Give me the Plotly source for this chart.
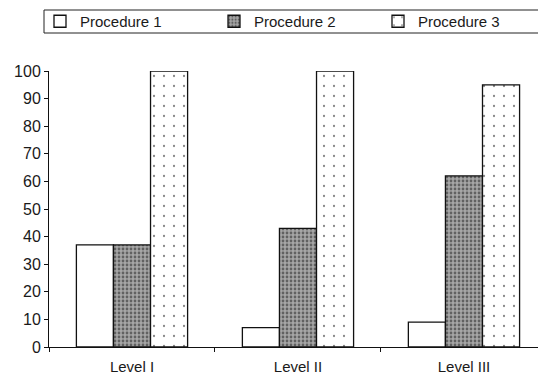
import plotly.graph_objects as go

# Grouped bar chart: three procedures compared across three levels
levels = ["Level I", "Level II", "Level III"]
procedure_names = ["Procedure 1", "Procedure 2", "Procedure 3"]
procedure_1 = [37, 7, 9]
procedure_2 = [37, 43, 62]
procedure_3 = [100, 100, 95]
y_ticks = [0, 10, 20, 30, 40, 50, 60, 70, 80, 90, 100]

FONT = "Arial, Liberation Sans, Helvetica, sans-serif"
W, H = 538, 378

styles = [
    dict(color="white", pattern=dict(shape="")),
    dict(color="#a6a6a6", pattern=dict(shape=".", size=4, solidity=0.38,
                                       fgcolor="#1c1c1c", fillmode="overlay")),
    dict(color="white", pattern=dict(shape=".", size=10, solidity=0.04,
                                     fgcolor="#111111", fillmode="overlay")),
]

# one legend per procedure so each key sits at its own spot along the top strip
legend_ids = ["legend", "legend2", "legend3"]
legend_left_px = [40, 214, 378]

fig = go.Figure()
for name, vals, st, lg in zip(procedure_names, [procedure_1, procedure_2, procedure_3],
                              styles, legend_ids):
    fig.add_trace(go.Bar(
        x=levels, y=vals, name=name, legend=lg,
        marker=dict(color=st["color"], pattern=st["pattern"],
                    line=dict(color="#111111", width=1.3)),
    ))

legend_common = dict(
    orientation="h", xref="container", yref="container",
    xanchor="left", yanchor="middle", y=1 - 21.5 / H,
    bgcolor="rgba(0,0,0,0)", borderwidth=0,
    font=dict(family=FONT, size=15, color="#1a1a1a"),
)
legend_layout = {lg: dict(legend_common, x=px / W) for lg, px in zip(legend_ids, legend_left_px)}

fig.update_layout(
    width=W, height=H,
    margin=dict(l=49, r=0, t=71, b=31, autoexpand=False),
    paper_bgcolor="white", plot_bgcolor="white",
    font=dict(family=FONT, size=15, color="#1a1a1a"),
    barmode="group", bargap=0.33, bargroupgap=0,
    showlegend=True,
    **legend_layout,
    xaxis=dict(
        range=[-0.5, 2.446], showline=True, linecolor="#111111", linewidth=1,
        ticks="outside", tickson="boundaries", ticklen=4, tickcolor="#111111",
        showgrid=False, zeroline=False, tickfont=dict(size=15),
        ticklabelstandoff=6,
    ),
    yaxis=dict(
        range=[0, 100], tickvals=y_ticks, showline=True, linecolor="#111111",
        linewidth=1, ticks="outside", ticklen=4, tickcolor="#111111",
        showgrid=False, zeroline=False, tickfont=dict(size=16),
    ),
)

# frame around the key strip, running off the right-hand edge
plot_w = W - 49
plot_h = H - 71 - 31
fig.add_shape(
    type="rect", xref="paper", yref="paper",
    x0=(44 - 49) / plot_w, x1=(W + 10 - 49) / plot_w,
    y0=(H - 31 - 33) / plot_h, y1=(H - 31 - 10) / plot_h,
    line=dict(color="#222222", width=1), fillcolor="rgba(0,0,0,0)",
)

fig.write_html("out.html")
